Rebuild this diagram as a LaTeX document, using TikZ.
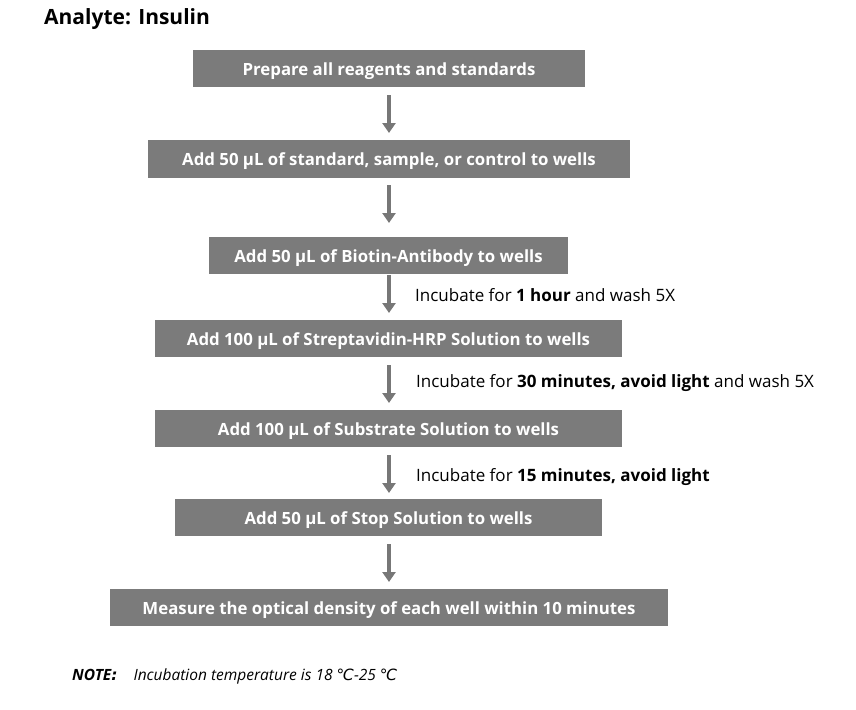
\documentclass[tikz,border=0pt]{standalone}
\usepackage{fontspec}
\setmainfont{Open Sans}
\newfontfamily\dejavu{DejaVu Sans}
\usetikzlibrary{arrows.meta}
\definecolor{boxgray}{HTML}{7B7B7B}
\definecolor{arrgray}{HTML}{777777}
\begin{document}
\begin{tikzpicture}[x=1pt,y=-1pt,
  stepbox/.style={fill=boxgray,draw=none,text=white,font=\fontsize{16.8}{19}\selectfont\bfseries,inner sep=0pt,anchor=center,text height=13pt,text depth=0pt},
  flow/.style={draw=arrgray,line width=3.5pt,-{Triangle[width=13pt,length=10pt]}},
  note/.style={font=\fontsize{17}{20}\selectfont,anchor=west,inner sep=0pt}]
\useasboundingbox (0,0) rectangle (856,709);
\node[anchor=west,inner sep=0pt,font=\fontsize{21}{24}\selectfont\bfseries] (title) at (44,19) {Analyte: Insulin};
\node[stepbox,minimum width=392pt,minimum height=37pt] (s1) at (389,68.5) {Prepare all reagents and standards};
\node[stepbox,minimum width=482pt,minimum height=38pt] (s2) at (389,159) {Add 50 µL of standard, sample, or control to wells};
\node[stepbox,minimum width=359pt,minimum height=37pt] (s3) at (388.5,255.5) {Add 50 µL of Biotin-Antibody to wells};
\node[stepbox,minimum width=467pt,minimum height=37pt] (s4) at (388.5,338.5) {Add 100 µL of Streptavidin-HRP Solution to wells};
\node[stepbox,minimum width=467pt,minimum height=37pt] (s5) at (388.5,428.5) {Add 100 µL of Substrate Solution to wells};
\node[stepbox,minimum width=427pt,minimum height=37pt] (s6) at (388.5,517.5) {Add 50 µL of Stop Solution to wells};
\node[stepbox,minimum width=558pt,minimum height=37pt] (s7) at (389,607.5) {Measure the optical density of each well within 10 minutes};
\coordinate (a1s) at (389,95);  \coordinate (a1e) at (389,133);
\coordinate (a2s) at (389,185); \coordinate (a2e) at (389,223);
\coordinate (a3s) at (389,275); \coordinate (a3e) at (389,313);
\coordinate (a4s) at (389,365); \coordinate (a4e) at (389,403);
\coordinate (a5s) at (389,455); \coordinate (a5e) at (389,493);
\coordinate (a6s) at (389,544); \coordinate (a6e) at (389,582);
\draw[flow] (a1s) -- (a1e);
\draw[flow] (a2s) -- (a2e);
\draw[flow] (a3s) -- (a3e);
\draw[flow] (a4s) -- (a4e);
\draw[flow] (a5s) -- (a5e);
\draw[flow] (a6s) -- (a6e);
\node[note] (l1) at (415,295) {Incubate for \textbf{1 hour} and wash 5X};
\node[note] (l2) at (416,383) {Incubate for \textbf{30 minutes, avoid light} and wash 5X};
\node[note] (l3) at (416,477) {Incubate for \textbf{15 minutes, avoid light}};
\node[anchor=west,inner sep=0pt,font=\fontsize{15.5}{18}\selectfont\itshape] (nt) at (72,676) {\textbf{NOTE}{\dejavu\bfseries\itshape :}\hspace{16pt}Incubation temperature is 18 {\dejavu\itshape ℃}-25 {\dejavu\itshape ℃}};
\end{tikzpicture}
\end{document}
